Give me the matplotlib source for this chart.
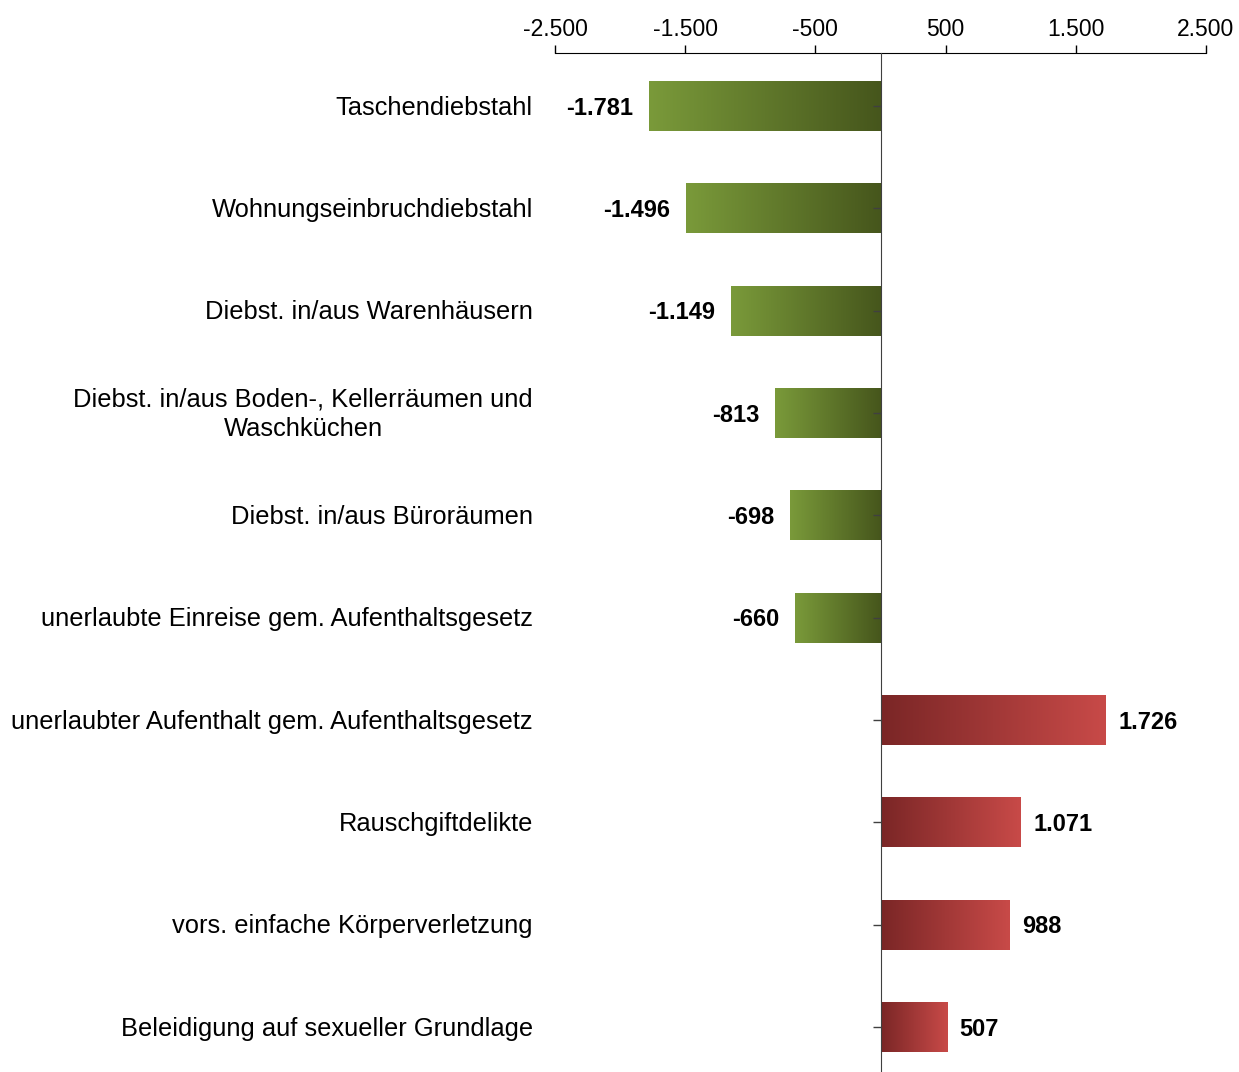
import matplotlib
matplotlib.use("Agg")
import matplotlib.pyplot as plt
import numpy as np
from matplotlib.ticker import FuncFormatter
from matplotlib.colors import LinearSegmentedColormap
import matplotlib.transforms as mtransforms

plt.rcParams['font.family'] = ['Liberation Sans', 'DejaVu Sans']

categories = [
    "Taschendiebstahl",
    "Wohnungseinbruchdiebstahl",
    "Diebst. in/aus Warenhäusern",
    "Diebst. in/aus Boden-, Kellerräumen und\nWaschküchen",
    "Diebst. in/aus Büroräumen",
    "unerlaubte Einreise gem. Aufenthaltsgesetz",
    "unerlaubter Aufenthalt gem. Aufenthaltsgesetz",
    "Rauschgiftdelikte",
    "vors. einfache Körperverletzung",
    "Beleidigung auf sexueller Grundlage",
]
values = [-1781, -1496, -1149, -813, -698, -660, 1726, 1071, 988, 507]
xticks = [-2500, -1500, -500, 500, 1500, 2500]

green_cmap = LinearSegmentedColormap.from_list("g", ["#7a9a3a", "#46561c"])
red_cmap = LinearSegmentedColormap.from_list("r", ["#7a2626", "#c84a48"])

def de(v):
    return f"{v:,.0f}".replace(",", ".")

fig = plt.figure(figsize=(12.39, 10.72), dpi=100)
ax = fig.add_axes([555/1239, 0.0, 651/1239, 1 - 53/1072])

y = np.arange(len(categories))
bars = ax.barh(y, values, height=0.49, color="none", edgecolor="none", zorder=2)

grad = np.linspace(0, 1, 256).reshape(1, -1)
for b, v in zip(bars, values):
    x0, yb, w, h = b.get_x(), b.get_y(), b.get_width(), b.get_height()
    cmap = green_cmap if v < 0 else red_cmap
    im = ax.imshow(grad, cmap=cmap, aspect="auto",
                   extent=[min(x0, x0 + w), max(x0, x0 + w), yb + h, yb],
                   zorder=2, interpolation="bilinear")
    im.set_clip_path(b)

ax.set_xlim(-2500, 2500)
ax.set_ylim((1072 - 106) / 102.33, -0.518)

ax.xaxis.set_ticks_position("top")
ax.set_xticks(xticks)
ax.xaxis.set_major_formatter(FuncFormatter(lambda v, p: de(v)))
ax.tick_params(axis="x", direction="out", length=6, width=1, color="#000000",
               labelsize=16.5, pad=3)

ax.spines["left"].set_position(("data", 0))
ax.spines["left"].set_color("#404040")
ax.spines["left"].set_zorder(3)
ax.spines["right"].set_visible(False)
ax.spines["bottom"].set_visible(False)
ax.spines["top"].set_color("#000000")
ax.set_yticks(y)
ax.tick_params(axis="y", direction="out", length=6, width=1, color="#404040",
               labelleft=False)
ax.yaxis.set_zorder(3)

trans = mtransforms.blended_transform_factory(ax.transAxes, ax.transData)
for yi, cat in zip(y, categories):
    ax.text(-22/651, yi + 0.015, cat, transform=trans, ha="right", va="center",
            multialignment="center", fontsize=18.4, color="#000000",
            linespacing=1.3)

for yi, v in zip(y, values):
    if v < 0:
        ax.annotate(de(v), (v, yi), xytext=(-11, -1.5), textcoords="offset points",
                    ha="right", va="center", fontsize=17, fontweight="bold")
    else:
        ax.annotate(de(v), (v, yi), xytext=(9.5, -1.5), textcoords="offset points",
                    ha="left", va="center", fontsize=17, fontweight="bold")

fig.savefig("out.png", dpi=100, facecolor="white")
